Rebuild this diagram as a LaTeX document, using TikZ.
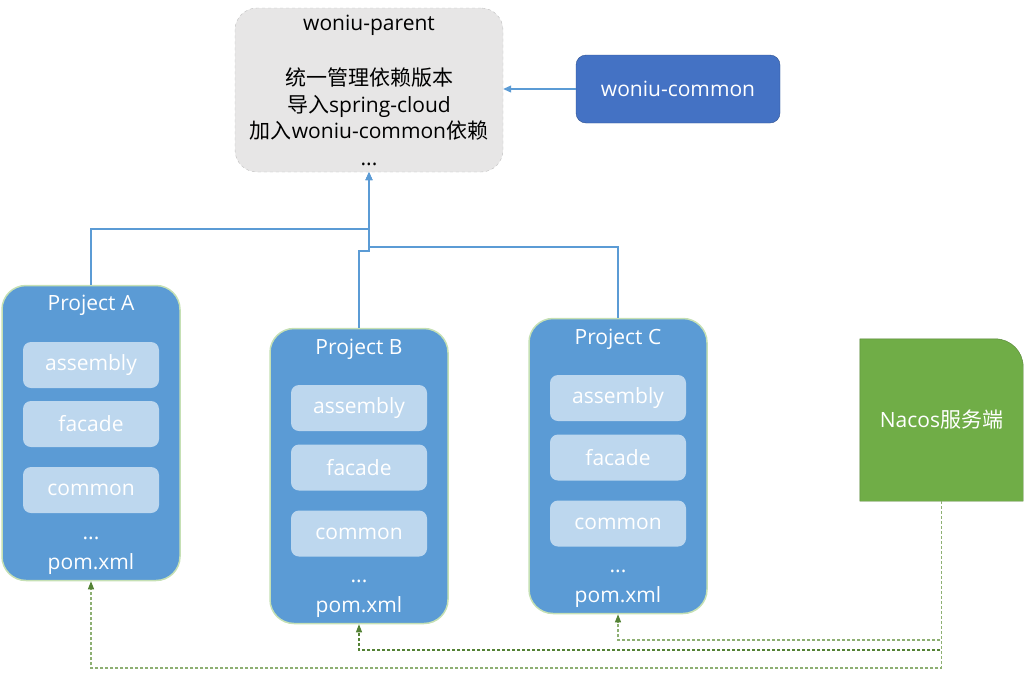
\documentclass[tikz,border=0pt]{standalone}
\usepackage{fontspec}
\setmainfont{Open Sans}
\newfontfamily\cjk{Noto Sans CJK SC}
\usetikzlibrary{arrows.meta,backgrounds}

\definecolor{parentfill}{HTML}{E7E6E6}
\definecolor{parentdraw}{HTML}{BFBFBF}
\definecolor{commonfill}{HTML}{4472C4}
\definecolor{commondraw}{HTML}{2F528F}
\definecolor{projfill}{HTML}{5B9BD5}
\definecolor{projdraw}{HTML}{C5E0B4}
\definecolor{modfill}{HTML}{BDD7EE}
\definecolor{nacosfill}{HTML}{70AD47}
\definecolor{nacosdraw}{HTML}{548235}
\definecolor{nacoslight}{HTML}{8DAF72}
\definecolor{linkblue}{HTML}{5B9BD5}

\tikzstyle{parentbox}=[shape=rectangle,
	       rounded corners=22pt,
	       fill=parentfill,
	       draw=parentdraw,
	       dashed,
	       minimum width=268pt,
	       minimum height=164pt,
	       align=center]
\tikzstyle{commonbox}=[shape=rectangle,
	       rounded corners=10pt,
	       fill=commonfill,
	       draw=commondraw,
	       text=white,
	       minimum width=204pt,
	       minimum height=68pt]
\tikzstyle{proj}=[shape=rectangle,
	       rounded corners=24pt,
	       fill=projfill,
	       draw=projdraw,
	       line width=1.5pt,
	       minimum width=178pt,
	       minimum height=295pt]
\tikzstyle{mod}=[shape=rectangle,
	       rounded corners=8pt,
	       fill=modfill,
	       text=white,
	       minimum width=136pt,
	       minimum height=46pt]
\tikzstyle{lbl}=[text=white, inner sep=0pt]
\tikzstyle{link}=[draw=linkblue, line width=1.1pt,
	       -{Triangle[length=8pt,width=7pt]}]
\tikzstyle{nline}=[line width=1.1pt, dash pattern=on 3pt off 2pt,
	       -{Triangle[length=8pt,width=6pt,color=nacosdraw]}]

\begin{document}
\begin{tikzpicture}[x=1pt, y=-1pt, font=\fontsize{21}{26.5}\selectfont]

\useasboundingbox (0,0) rectangle (1024,673);

% parent pom and the common module feeding it
\node[parentbox] (parent) at (369,90) {woniu-parent\\[29pt]{\cjk 统一管理依赖版本}\\{\cjk 导入}spring-cloud\\{\cjk 加入}woniu-common{\cjk 依赖}\\...};
\node[commonbox] (common) at (678,89) {woniu-common};
\draw[link] (common.west) -- (parent.east |- common.west);

% the three projects, modules placed relative to each project box
\node[proj] (pA) at (91,433) {};
\path (pA) ++(0,-128) node[lbl] (titleA) {Project A};
\path (pA) ++(0,-68) node[mod] (asmA) {assembly};
\path (pA) ++(0,-9) node[mod] (facA) {facade};
\path (pA) ++(0,57) node[mod] (comA) {common};
\path (pA) ++(0,105) node[lbl] (dotsA) {...};
\path (pA) ++(0,131) node[lbl] (pomA) {pom.xml};

\node[proj] (pB) at (359,476) {};
\path (pB) ++(0,-127) node[lbl] (titleB) {Project B};
\path (pB) ++(0,-68) node[mod] (asmB) {assembly};
\path (pB) ++(0,-8.5) node[mod] (facB) {facade};
\path (pB) ++(0,57.5) node[mod] (comB) {common};
\path (pB) ++(0,105) node[lbl] (dotsB) {...};
\path (pB) ++(0,131) node[lbl] (pomB) {pom.xml};

\node[proj] (pC) at (618,466) {};
\path (pC) ++(0,-127) node[lbl] (titleC) {Project C};
\path (pC) ++(0,-68) node[mod] (asmC) {assembly};
\path (pC) ++(0,-8.5) node[mod] (facC) {facade};
\path (pC) ++(0,57.5) node[mod] (comC) {common};
\path (pC) ++(0,105) node[lbl] (dotsC) {...};
\path (pC) ++(0,131) node[lbl] (pomC) {pom.xml};

% inheritance lines up to the parent
\coordinate (jA) at (369,229);
\coordinate (jC) at (369,247);
\coordinate (jB) at (369,251);
\draw[link] (pA.north) |- (jA) -- (parent.south);
\draw[link] (pC.north) |- (jC) -- (parent.south);
\draw[link] (pB.north) |- (jB) -- (parent.south);

% nacos server with one rounded corner
\node (nacos) [minimum width=163pt, minimum height=162pt, text=white] at (941.5,420) {Nacos{\cjk 服务端}};
\begin{scope}[on background layer]
\draw[fill=nacosfill, draw=nacosdraw] (nacos.south west) -- (nacos.north west) [rounded corners=28pt] -- (nacos.north east) [sharp corners] -- (nacos.south east) -- cycle;
\end{scope}

% dashed registration lines from nacos
\coordinate (kC) at (618,640);
\coordinate (kB) at (359,650);
\coordinate (kA) at (91,668);
\draw[nline, draw=nacoslight] (nacos.south) |- (kC) -- (pC.south);
\draw[nline, draw=nacosdraw] (nacos.south) |- (kB) -- (pB.south);
\draw[nline, draw=nacoslight] (nacos.south) |- (kA) -- (pA.south);

\end{tikzpicture}
\end{document}
